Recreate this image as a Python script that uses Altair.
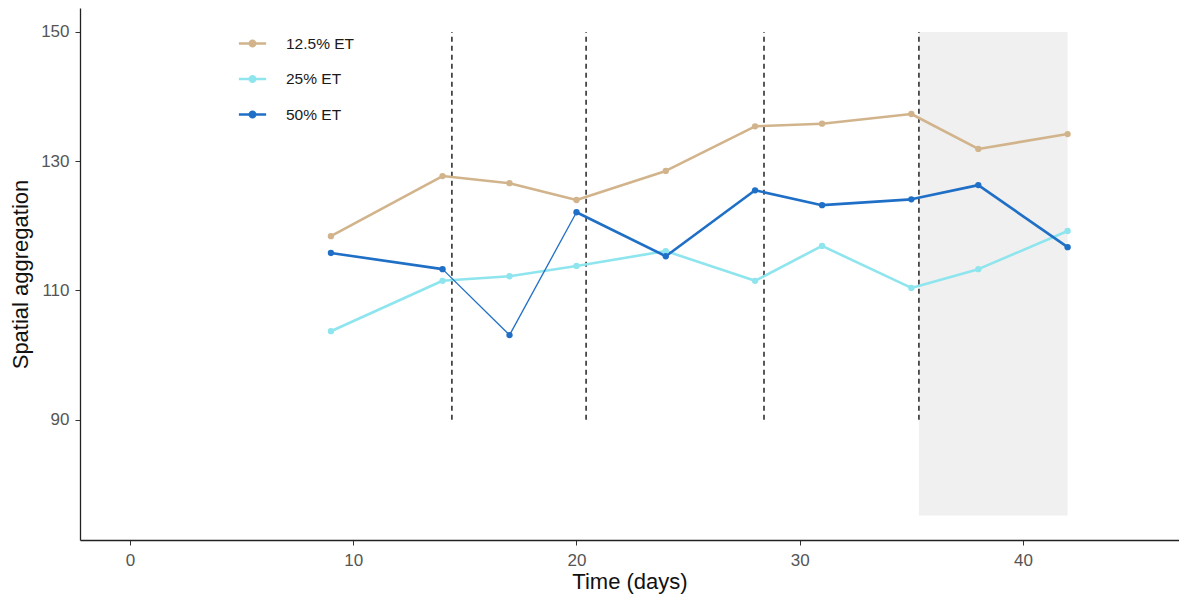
import altair as alt
import pandas as pd

# ---- data ----
days = [9, 14, 17, 20, 24, 28, 31, 35, 38, 42]
series_names = ["12.5% ET", "25% ET", "50% ET"]
et_12_5 = [118.4, 127.7, 126.6, 124.0, 128.5, 135.4, 135.8, 137.3, 131.9, 134.2]
et_25 = [103.7, 111.5, 112.2, 113.8, 116.1, 111.5, 116.9, 110.4, 113.3, 119.2]
et_50 = [115.8, 113.3, 103.1, 122.1, 115.3, 125.5, 123.2, 124.1, 126.3, 116.7]
vlines = [14.42, 20.43, 28.4, 35.34]
shade_x = [35.34, 42.0]
shade_y = [75.2, 150.0]
vline_y = [90, 150]
x_ticks = [0, 10, 20, 30, 40]
y_ticks = [90, 110, 130, 150]

# style: segments (series, start index) drawn thin
thin_segments = [("50% ET", 1), ("50% ET", 2)]

colors = ["#D2B48C", "#8EE5EE", "#1F6FC6"]

values = {"12.5% ET": et_12_5, "25% ET": et_25, "50% ET": et_50}

pts = pd.DataFrame(
    [{"day": d, "value": v, "series": s} for s in series_names for d, v in zip(days, values[s])]
)

seg_rows = []
for s in series_names:
    vals = values[s]
    for i in range(len(days) - 1):
        w = 1.3 if (s, i) in thin_segments else 2.6
        for j in (i, i + 1):
            seg_rows.append({"day": days[j], "value": vals[j], "series": s,
                             "seg": f"{s}-{i}", "w": w})
segs = pd.DataFrame(seg_rows)

xscale = alt.Scale(domain=[-2.24, 46.99], nice=False, zero=False)
yscale = alt.Scale(domain=[71.4, 153.7], nice=False, zero=False)
cscale = alt.Scale(domain=series_names, range=colors)

font = "Liberation Sans"

shade = alt.Chart(pd.DataFrame({"x1": [shade_x[0]], "x2": [shade_x[1]],
                                "y1": [shade_y[0]], "y2": [shade_y[1]]})).mark_rect(
    color="#F0F0F0").encode(
    x=alt.X("x1:Q", scale=xscale,
            axis=alt.Axis(values=x_ticks, title="Time (days)", grid=False)),
    x2="x2:Q",
    y=alt.Y("y1:Q", scale=yscale,
            axis=alt.Axis(values=y_ticks, title="Spatial aggregation", grid=False)),
    y2="y2:Q",
)

rules = alt.Chart(pd.DataFrame({"x": vlines, "y1": [vline_y[0]] * len(vlines),
                                "y2": [vline_y[1]] * len(vlines)})).mark_rule(
    color="black", strokeWidth=1.3, strokeDash=[5, 4]).encode(
    x=alt.X("x:Q", scale=xscale),
    y=alt.Y("y1:Q", scale=yscale),
    y2="y2:Q",
)

lines = alt.Chart(segs).mark_line(strokeCap="butt").encode(
    x=alt.X("day:Q", scale=xscale),
    y=alt.Y("value:Q", scale=yscale),
    color=alt.Color("series:N", scale=cscale, sort=series_names,
                    legend=alt.Legend(
                        title=None, orient="none", legendX=162, legendY=25,
                        symbolType="M-1.5,0H1.5M-0.3,0a0.3,0.3 0 1,0 0.6,0a0.3,0.3 0 1,0 -0.6,0",
                        symbolSize=330, symbolStrokeWidth=2.6,
                        labelFont=font, labelFontSize=15.5, labelColor="#1a1a1a",
                        labelOffset=23, rowPadding=16.5)),
    detail="seg:N",
    strokeWidth=alt.StrokeWidth("w:Q", scale=None, legend=None),
    order=alt.Order("day:Q"),
)

points = alt.Chart(pts).mark_circle(size=40, opacity=1).encode(
    x=alt.X("day:Q", scale=xscale),
    y=alt.Y("value:Q", scale=yscale),
    color=alt.Color("series:N", scale=cscale, sort=series_names, legend=None),
)

chart = alt.layer(shade, rules, lines, points).properties(
    width=1099, height=532,
    autosize=alt.AutoSizeParams(type="none"),
    padding={"left": 72, "top": 0, "right": 0, "bottom": 57},
).configure_view(stroke=None).configure_axis(
    domainColor="#222222", domainWidth=1.3, tickColor="#333333", tickSize=5,
    labelFont=font, labelFontSize=17, labelColor="#555555", labelPadding=6,
    titleFont=font, titleFontSize=22, titleFontWeight="normal", titleColor="#111111",
).configure_axisX(titlePadding=3, labelPadding=7).configure_axisY(titlePadding=8)

chart.save("out.html", embed_options={"renderer": "svg", "actions": False})
